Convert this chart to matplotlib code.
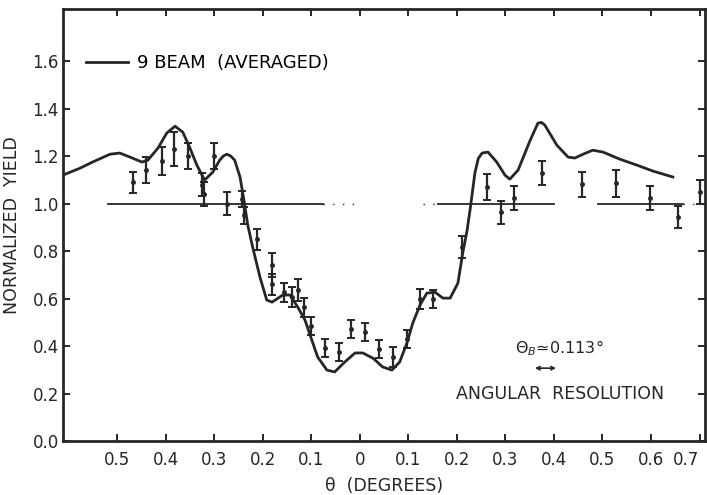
import numpy as np
import matplotlib
matplotlib.use("Agg")
import matplotlib.pyplot as plt

# 9-beam calculation (averaged)
theta_calc = [-0.612, -0.577, -0.551, -0.515, -0.495, -0.474, -0.449, -0.437, -0.416, -0.398,
              -0.381, -0.365, -0.351, -0.336, -0.320, -0.303, -0.289, -0.281, -0.274, -0.266,
              -0.258, -0.247, -0.239, -0.231, -0.221, -0.206, -0.192, -0.181, -0.159, -0.144,
              -0.128, -0.113, -0.099, -0.087, -0.068, -0.052, -0.031, -0.010, 0.006, 0.027,
              0.047, 0.066, 0.082, 0.097, 0.109, 0.124, 0.138, 0.155, 0.171, 0.186,
              0.202, 0.212, 0.221, 0.227, 0.237, 0.244, 0.252, 0.264, 0.282, 0.299,
              0.309, 0.326, 0.351, 0.367, 0.374, 0.381, 0.406, 0.429, 0.443, 0.460,
              0.480, 0.501, 0.536, 0.571, 0.604, 0.645]
yield_calc = [1.120, 1.149, 1.175, 1.208, 1.213, 1.196, 1.175, 1.183, 1.234, 1.297,
              1.326, 1.301, 1.238, 1.162, 1.099, 1.133, 1.183, 1.201, 1.208, 1.200,
              1.183, 1.112, 1.015, 0.909, 0.817, 0.691, 0.594, 0.585, 0.615, 0.615,
              0.564, 0.509, 0.425, 0.354, 0.299, 0.291, 0.333, 0.371, 0.371, 0.349,
              0.312, 0.299, 0.333, 0.413, 0.497, 0.573, 0.623, 0.627, 0.602, 0.602,
              0.665, 0.792, 0.888, 0.973, 1.128, 1.190, 1.213, 1.217, 1.175, 1.120,
              1.103, 1.141, 1.267, 1.339, 1.342, 1.331, 1.246, 1.196, 1.192, 1.208,
              1.225, 1.217, 1.187, 1.162, 1.137, 1.112]

# measured yield with error bars
theta_meas = [-0.468, -0.440, -0.408, -0.384, -0.354, -0.326, -0.322, -0.300, -0.273, -0.243,
              -0.238, -0.213, -0.182, -0.182, -0.157, -0.140, -0.128, -0.115, -0.100, -0.072,
              -0.043, -0.019, 0.010, 0.040, 0.068, 0.097, 0.124, 0.151, 0.210, 0.262,
              0.290, 0.318, 0.376, 0.458, 0.528, 0.598, 0.656, 0.700]
yield_meas = [1.09, 1.14, 1.18, 1.23, 1.20, 1.08, 1.04, 1.20, 1.00, 1.02,
              0.95, 0.85, 0.74, 0.66, 0.627, 0.606, 0.636, 0.564, 0.484, 0.392,
              0.375, 0.472, 0.459, 0.387, 0.354, 0.430, 0.600, 0.600, 0.817, 1.07,
              0.964, 1.023, 1.128, 1.082, 1.086, 1.023, 0.943, 1.05]
yield_err = [0.045, 0.055, 0.060, 0.070, 0.055, 0.050, 0.050, 0.055, 0.050, 0.035,
             0.035, 0.045, 0.050, 0.045, 0.040, 0.042, 0.045, 0.040, 0.038, 0.038,
             0.036, 0.038, 0.038, 0.038, 0.042, 0.038, 0.042, 0.038, 0.045, 0.053,
             0.048, 0.050, 0.051, 0.053, 0.057, 0.050, 0.047, 0.050]

# random (unity) level, drawn in pieces as in the original
unity_solid = [(-0.52, -0.076), (0.16, 0.40), (0.49, 0.665)]
unity_dotted = [(-0.076, 0.0), (0.13, 0.16), (0.665, 0.71)]

x_ticks = [-0.5, -0.4, -0.3, -0.2, -0.1, 0.0, 0.1, 0.2, 0.3, 0.4, 0.5, 0.6, 0.7]
x_ticklabels = ["0.5", "0.4", "0.3", "0.2", "0.1", "0", "0.1", "0.2", "0.3", "0.4", "0.5", "0.6", "0.7"]
y_ticks = [0.0, 0.2, 0.4, 0.6, 0.8, 1.0, 1.2, 1.4, 1.6]

ink = "#262626"

fig = plt.figure(figsize=(7.07, 4.95), dpi=100)
ax = fig.add_axes([0.089, 0.109, 0.908, 0.873])

ax.plot(theta_calc, yield_calc, color=ink, lw=2.0, label="9 BEAM  (AVERAGED)")

for a, b in unity_solid:
    ax.plot([a, b], [1.0, 1.0], color=ink, lw=1.3)
for a, b in unity_dotted:
    ax.plot([a, b], [1.0, 1.0], color=ink, lw=1.0, ls=(0, (1, 6)))

ax.errorbar(theta_meas, yield_meas, yerr=yield_err, fmt="o", ms=2.5, color=ink,
            ecolor=ink, elinewidth=1.6, capsize=3.0, capthick=1.4)

ax.set_xlim(-0.612, 0.711)
ax.set_ylim(0, 1.82)
ax.set_xticks(x_ticks)
ax.set_xticklabels(x_ticklabels)
ax.set_yticks(y_ticks)
ax.set_yticklabels(["%.1f" % v for v in y_ticks])
ax.tick_params(direction="in", length=5, width=1.4, top=True, right=True,
               labelsize=12, colors=ink)
ax.tick_params(axis="x", pad=7)
ax.tick_params(axis="y", pad=3)
# last label sits at the figure edge, keep it inside
ax.get_xticklabels()[-1].set_horizontalalignment("right")
for s in ax.spines.values():
    s.set_linewidth(2.0)
    s.set_color(ink)

ax.set_xlabel("θ  (DEGREES)", fontsize=12.5, color=ink, labelpad=6)
ax.set_ylabel("NORMALIZED  YIELD", fontsize=12.5, color=ink, labelpad=8)

ax.legend(loc="center left", bbox_to_anchor=(0.036, 0.875), frameon=False,
          handlelength=2.3, handletextpad=0.5, borderpad=0, borderaxespad=0,
          prop={"size": 13})

ax.text(0.41, 0.39, r"$\Theta_B$≃0.113°", fontsize=11.5, color=ink, ha="center", va="center")
ax.annotate("", xy=(0.355, 0.307), xytext=(0.41, 0.307),
            arrowprops=dict(arrowstyle="<->", color=ink, lw=1.2, mutation_scale=6))
ax.text(0.412, 0.20, "ANGULAR  RESOLUTION", fontsize=12.5, color=ink, ha="center", va="center")

fig.savefig("out.png", dpi=100, facecolor="white")
